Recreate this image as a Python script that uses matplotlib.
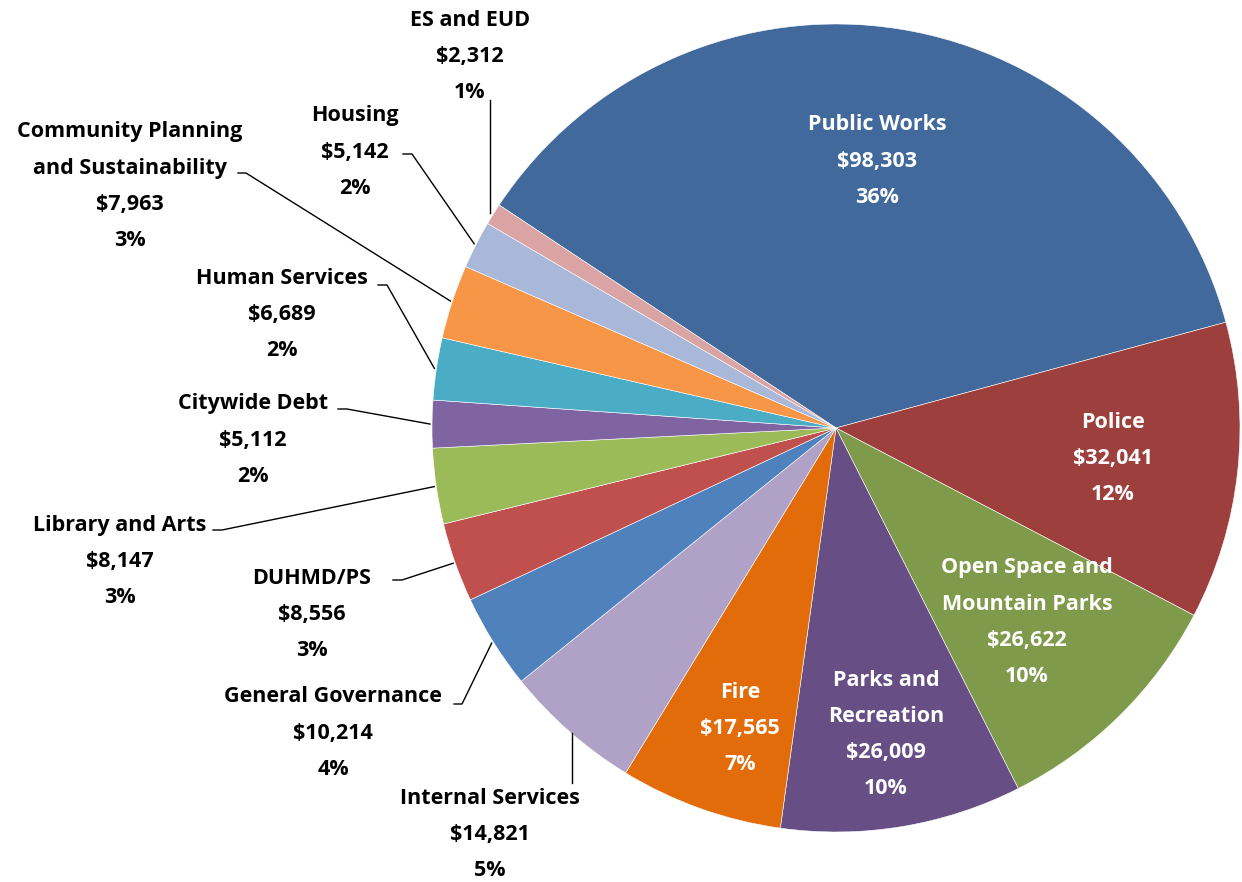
# Department budget pie chart

import matplotlib
matplotlib.use("Agg")
import matplotlib.pyplot as plt
import numpy as np

departments = ["Public Works", "Police", "Open Space and\nMountain Parks",
               "Parks and\nRecreation", "Fire", "Internal Services",
               "General Governance", "DUHMD/PS", "Library and Arts",
               "Citywide Debt", "Human Services",
               "Community Planning\nand Sustainability", "Housing", "ES and EUD"]
amounts = [98303, 32041, 26622, 26009, 17565, 14821, 10214,
           8556, 8147, 5112, 6689, 7963, 5142, 2312]
colors = ["#41699b", "#9c3f3d", "#7f9a4a", "#674f85", "#e36c0a", "#b0a2c7",
          "#4f81bd", "#c0504d", "#9bbb59", "#8064a2", "#4bacc6", "#f79646",
          "#a9b8d8", "#d9a4a3"]

# label layout in pixel coords (x center, first line y), inside = white text
label_pos = [(877, 125), (1113, 422), (1027, 568), (886, 680), (740, 692),
             (490, 798), (333, 697), (312, 578), (120, 525), (253, 404),
             (282, 278), (130, 132), (355, 116), (470, 20)]
inside = [True, True, True, True, True] + [False] * 9
# leader start near the text, and elbow (None = straight line)
leaders = {5: ((572, 783), None), 6: ((454, 704), (462, 704)),
           7: ((393, 580), (402, 580)), 8: ((213, 530), (222, 530)),
           9: ((338, 409), (347, 409)), 10: ((378, 285), (387, 285)),
           11: ((238, 173), (246, 173)), 12: ((403, 154), (412, 154)),
           13: ((490, 100), None)}

W, H = 1242, 882
cx, cy, R = 836, 428, 404


def py(y):
    return H - y


plt.rcParams['font.family'] = ['Open Sans', 'DejaVu Sans']

fig = plt.figure(figsize=(W / 100, H / 100), dpi=100)
ax = fig.add_axes([0, 0, 1, 1])

wedges, _ = ax.pie(amounts, colors=colors, startangle=146.5, counterclock=False,
                   center=(cx, py(cy)), radius=R,
                   wedgeprops=dict(linewidth=0.4, edgecolor="white"))
ax.set_xlim(0, W)
ax.set_ylim(0, H)
ax.axis("off")

total = sum(amounts)
for i, (name, v) in enumerate(zip(departments, amounts)):
    lines = name.split("\n") + ["${:,}".format(v), "{:.0f}%".format(100 * v / total)]
    x0, y0 = label_pos[i]
    col = "white" if inside[i] else "black"
    for k, t in enumerate(lines):
        ax.text(x0, py(y0 + 36.3 * k), t, ha="center", va="center",
                fontsize=15.5, fontweight="bold", color=col)

    if i in leaders:
        start, elbow = leaders[i]
        w = wedges[i]
        mid = np.deg2rad((w.theta1 + w.theta2) / 2)
        ex = cx + (R + 2) * np.cos(mid)
        ey = cy - (R + 2) * np.sin(mid)
        if elbow is None:
            ex = start[0]  # straight vertical leader
        pts = [start] + ([elbow] if elbow else []) + [(ex, ey)]
        ax.plot([p[0] for p in pts], [py(p[1]) for p in pts],
                color="black", lw=1)

fig.savefig("out.png", dpi=100)
